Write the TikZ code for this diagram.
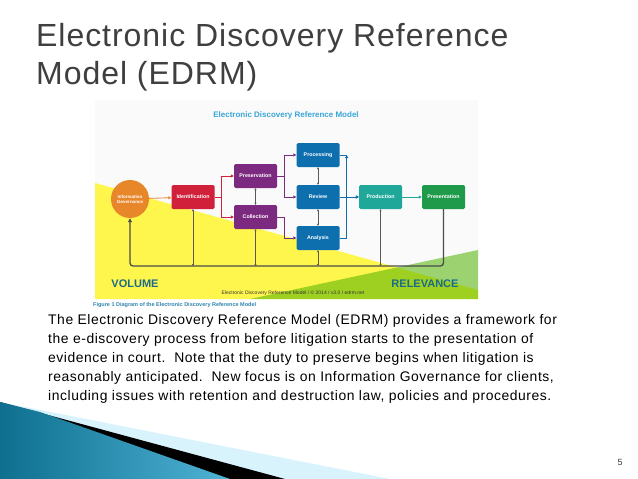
\documentclass[tikz,border=0pt]{standalone}
\usepackage{fontspec}
\setmainfont{Liberation Sans}
\usetikzlibrary{arrows.meta}
\definecolor{ttl}{HTML}{3F3F3F}
\definecolor{eblue}{HTML}{3AA6D8}
\definecolor{dblue}{HTML}{0D6FAE}
\definecolor{teal1}{HTML}{1FA89A}
\definecolor{grn}{HTML}{1E9A4A}
\definecolor{purp}{HTML}{7B2A80}
\definecolor{redb}{HTML}{D0203A}
\definecolor{orng}{HTML}{E8862A}
\definecolor{vol}{HTML}{1A6A8A}
\definecolor{sw1}{HTML}{0E6F8F}
\definecolor{sw2}{HTML}{4FB3D6}
\tikzset{
 box/.style={draw=none,rounded corners=1.5pt,minimum width=43pt,minimum height=24pt,text=white,font=\fontsize{5.3}{6}\selectfont\bfseries},
 ar/.style={-{Triangle[length=3pt,width=3pt]},line width=0.8pt},
 dar/.style={{Triangle[length=2pt,width=2pt]}-{Triangle[length=2pt,width=2pt]},line width=0.5pt,gray!70!black},
 para/.style={anchor=west,font=\fontsize{13.9}{15}\selectfont\addfontfeatures{LetterSpace=4},text=black,inner sep=0},
 ttlst/.style={anchor=west,text=ttl,font=\fontsize{32}{34}\selectfont\addfontfeatures{LetterSpace=3},inner sep=0}
}
\begin{document}
\begin{tikzpicture}[x=1pt,y=-1pt]
\useasboundingbox (0,0) rectangle (638,479);
\fill[white] (0,0) rectangle (638,479);
% title
\node[ttlst] (t1) at (36,38) {Electronic Discovery Reference};
\node[ttlst] (t2) at (36,76) {Model (EDRM)};
% diagram background
\fill[gray!4] (95,100) rectangle (478,299);
\fill[yellow!70] (95,183) -- (95,299) -- (478,299) -- (478,290) -- cycle;
\fill[green!55!yellow!70!black,opacity=0.55] (478,250) -- (478,299) -- (250,299) -- cycle;
\node[text=eblue,font=\fontsize{8}{9}\selectfont\bfseries] (dt) at (286,115) {Electronic Discovery Reference Model};
% nodes
\node[circle,fill=orng,minimum size=38pt,inner sep=0,text=white,font=\fontsize{4.5}{5}\selectfont\bfseries,align=center] (ig) at (130,199) {Information\\Governance};
\node[box,fill=redb] (id) at (193,197) {Identification};
\node[box,fill=purp] (pr) at (255.5,176) {Preservation};
\node[box,fill=purp] (co) at (255.5,217) {Collection};
\node[box,fill=dblue] (pc) at (318,155) {Processing};
\node[box,fill=dblue] (rv) at (318,197) {Review};
\node[box,fill=dblue] (an) at (318,238) {Analysis};
\node[box,fill=teal1] (pd) at (380.5,197) {Production};
\node[box,fill=grn] (ps) at (443.5,197) {Presentation};
% arrows
\draw[ar,orng] (ig) -- (id);
\draw[ar,redb] (id.east) -- ++(7,0) coordinate (s1) |- (pr.west);
\draw[ar,redb] (s1) |- (co.west);
\draw[dar] (pr) -- (co);
\draw[ar,purp] (pr.east) -- ++(7,0) coordinate (s2) |- (pc.west);
\draw[ar,purp] (co.east) -- ++(7,0) |- (an.west);
\draw[ar,purp] (s2) |- (rv.west);
\draw[dar] (pc) -- (rv);
\draw[dar] (rv) -- (an);
\draw[ar,dblue] (pc.east) -- ++(7,0) coordinate (s3) |- (pd.west);
\draw[ar,dblue] (an.east) -| (s3);
\draw[ar,dblue] (rv) -- (pd);
\draw[ar,teal1] (pd) -- (ps);
\coordinate (fb1) at (443.5,266);
\coordinate (fb0) at (130,266);
\draw[line width=1.3pt,gray!60!black,-{Triangle[length=4pt,width=4pt]},rounded corners=3pt] (ps.south) -- (fb1) -- (fb0) -- (ig.south);
\foreach \n in {id,co,an,pd}{\draw[dar] (\n.south) -- (\n.south |- fb0);}
\node[text=vol,font=\fontsize{11}{12}\selectfont\bfseries] (vl) at (135,284) {VOLUME};
\node[text=vol,font=\fontsize{11}{12}\selectfont\bfseries] (rl) at (425,284) {RELEVANCE};
\node[font=\fontsize{5}{6}\selectfont,text=black!80] (ft) at (293,293) {Electronic Discovery Reference Model / \textcopyright{} 2014 / v3.0 / edrm.net};
\node[anchor=west,font=\fontsize{5.5}{6}\selectfont\bfseries,text=eblue!80!black,inner sep=0] (cap) at (93,305) {Figure 1 Diagram of the Electronic Discovery Reference Model};
% paragraph
\node[para] (p1) at (48,321) {The Electronic Discovery Reference Model (EDRM) provides a framework for};
\node[para] (p2) at (48,340) {the e-discovery process from before litigation starts to the presentation of};
\node[para] (p3) at (48,359) {evidence in court.\ \ Note that the duty to preserve begins when litigation is};
\node[para] (p4) at (48,378) {reasonably anticipated.\ \ New focus is on Information Governance for clients,};
\node[para] (p5) at (48,397) {including issues with retention and destruction law, policies and procedures.};
% swoosh
\fill[cyan!15] (0,402) -- (390,479) -- (0,479) -- cycle;
\fill[black] (0,402) -- (285,479) -- (0,479) -- cycle;
\shade[left color=sw1,right color=sw2] (0,402) -- (40,412) -- (230,479) -- (0,479) -- cycle;
\node[font=\fontsize{9}{10}\selectfont,text=ttl] (pg) at (620,462) {5};
\end{tikzpicture}
\end{document}
